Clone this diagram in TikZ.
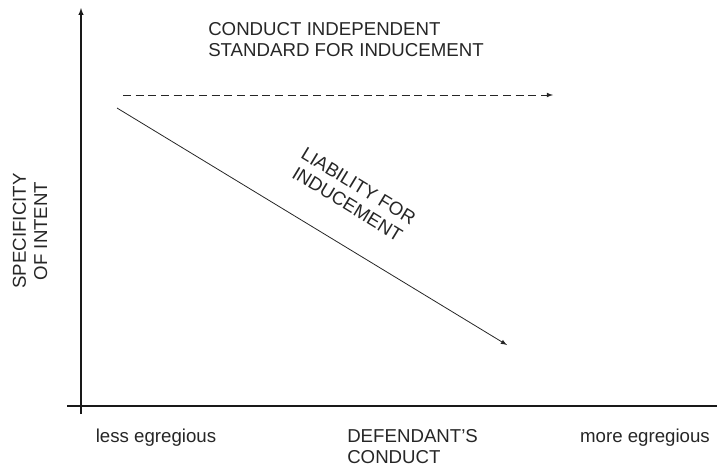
\documentclass[tikz,border=0pt]{standalone}
\usepackage{fontspec}
\setmainfont{Liberation Sans}
\usetikzlibrary{positioning}

\begin{document}
\begin{tikzpicture}[x=0.75pt, y=-0.75pt, font=\fontsize{14}{16}\selectfont,
  lbl/.style={text=black!85, inner sep=0pt, align=center},
  axis/.style={line width=0.8pt, black!90},
  trend/.style={line width=0.6pt, black!85, -latex}]
\useasboundingbox (0,0) rectangle (717,469);

%% axes
\coordinate (ybot) at (81,414);
\coordinate (ytop) at (81,8);
\coordinate (xleft) at (67,406);
\coordinate (xright) at (717,406);
\draw[axis, -latex] (ybot) -- (ytop);
\draw[axis] (xleft) -- (xright);

% standard for inducement (dashed)
\coordinate (ds) at (123,95);
\coordinate (de) at (553,95);
\draw[trend, dashed, dash pattern=on 6pt off 3.5pt] (ds) -- (de);
\node[lbl, align=left, anchor=north west] (std) at (208,22)
  {CONDUCT INDEPENDENT\\STANDARD FOR INDUCEMENT};

% liability line
\coordinate (ls) at (117,108);
\coordinate (le) at (507,345);
\draw[trend] (ls) -- (le);
\node[lbl, rotate=-31.3] (liab) at (353,195) {LIABILITY FOR\\INDUCEMENT};

%% axis labels
\node[lbl, rotate=90] (yl) at (30,231) {SPECIFICITY\\OF INTENT};
\node[lbl] (less) at (156,438) {less egregious};
\node[lbl, align=left, anchor=north west] (cond) at (347,429) {DEFENDANT'S\\CONDUCT};
\node[lbl] (more) at (645,438) {more egregious};

\end{tikzpicture}
\end{document}
